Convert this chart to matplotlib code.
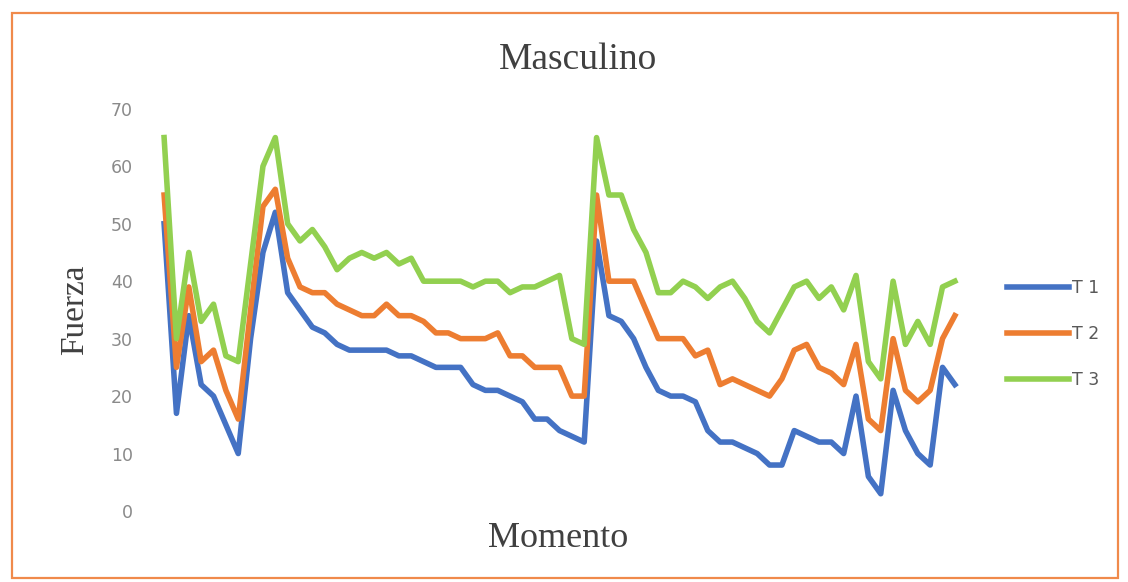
import numpy as np
import matplotlib
matplotlib.use('Agg')
import matplotlib.pyplot as plt
from matplotlib.patches import Rectangle

# Fuerza por momento, tres tomas
t1 = [50, 17, 34, 22, 20, 15, 10, 30, 45, 52, 38, 35, 32, 31, 29, 28, 28, 28, 28, 27,
      27, 26, 25, 25, 25, 22, 21, 21, 20, 19, 16, 16, 14, 13, 12, 47, 34, 33, 30, 25,
      21, 20, 20, 19, 14, 12, 12, 11, 10, 8, 8, 14, 13, 12, 12, 10, 20, 6, 3, 21,
      14, 10, 8, 25, 22]
t2 = [55, 25, 39, 26, 28, 21, 16, 35, 53, 56, 44, 39, 38, 38, 36, 35, 34, 34, 36, 34,
      34, 33, 31, 31, 30, 30, 30, 31, 27, 27, 25, 25, 25, 20, 20, 55, 40, 40, 40, 35,
      30, 30, 30, 27, 28, 22, 23, 22, 21, 20, 23, 28, 29, 25, 24, 22, 29, 16, 14, 30,
      21, 19, 21, 30, 34]
t3 = [65, 30, 45, 33, 36, 27, 26, 43, 60, 65, 50, 47, 49, 46, 42, 44, 45, 44, 45, 43,
      44, 40, 40, 40, 40, 39, 40, 40, 38, 39, 39, 40, 41, 30, 29, 65, 55, 55, 49, 45,
      38, 38, 40, 39, 37, 39, 40, 37, 33, 31, 35, 39, 40, 37, 39, 35, 41, 26, 23, 40,
      29, 33, 29, 39, 40]
series_names = ['T 1', 'T 2', 'T 3']
colors = ['#4472C4', '#ED7D31', '#92D050']
yticks = [0, 10, 20, 30, 40, 50, 60, 70]

fig = plt.figure(figsize=(11.28, 5.82), dpi=100)
ax = fig.add_axes([0.140, 0.122, 0.712, 0.691])

x = np.arange(len(t1))
for vals, name, c in zip([t1, t2, t3], series_names, colors):
    ax.plot(x, vals, color=c, lw=4.0, label=name, solid_joinstyle='round')

ax.set_xlim(-0.5, len(t1) - 0.5)
ax.set_ylim(0, 70)
ax.set_xticks([])
ax.set_yticks(yticks)
ax.tick_params(axis='y', length=0, pad=18, labelsize=12.5, labelcolor='#8a8a8a')
for s in ax.spines.values():
    s.set_visible(False)

serif = 'Liberation Serif'
fig.text(0.512, 0.898, 'Masculino', ha='center', va='center',
         fontsize=27, family=serif, color='#404040')
fig.text(0.495, 0.075, 'Momento', ha='center', va='center',
         fontsize=26, family=serif, color='#404040')
fig.text(0.066, 0.467, 'Fuerza', ha='center', va='center', rotation=90,
         fontsize=24, family=serif, color='#404040')

fig.legend(loc='center left', bbox_to_anchor=(0.885, 0.426), frameon=False,
           handlelength=3.6, handletextpad=0.15, labelspacing=1.6,
           borderpad=0, prop={'size': 12.5}, labelcolor='#595959')

# marco del gráfico
fig.patches.append(Rectangle((12 / 1128, 4 / 582), 1106 / 1128, 565 / 582,
                             transform=fig.transFigure, fill=False,
                             edgecolor='#F08A4B', lw=1.6))

fig.savefig('out.png', dpi=100)
